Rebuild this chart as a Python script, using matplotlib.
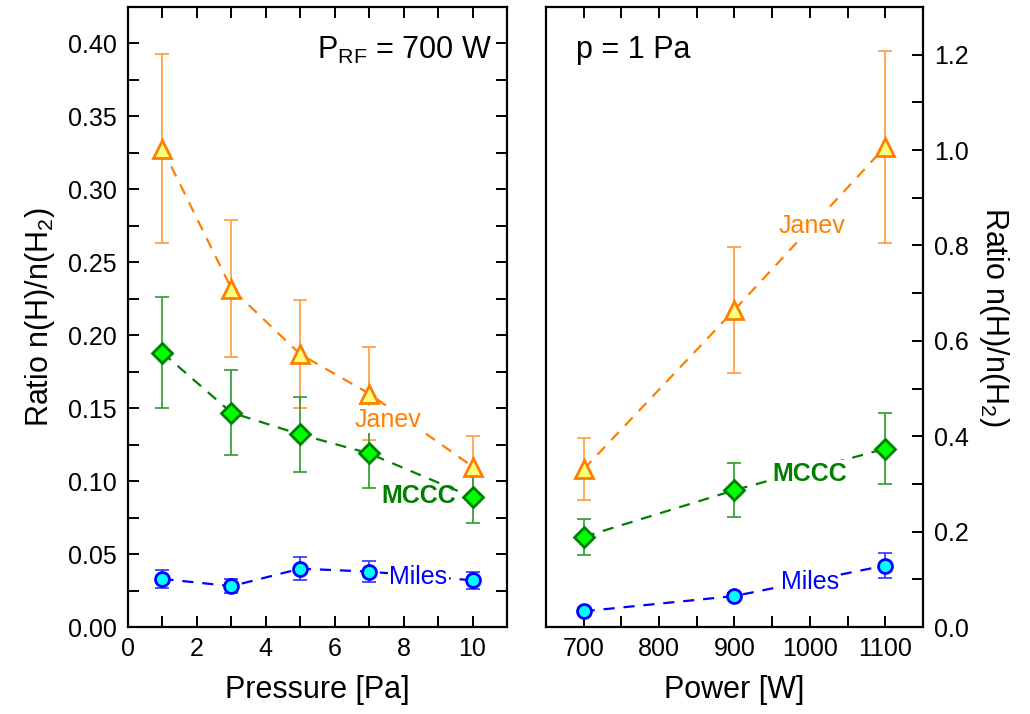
import matplotlib

matplotlib.use("Agg")
import matplotlib.pyplot as plt
from matplotlib.ticker import MultipleLocator

plt.rcParams["font.family"] = ["Liberation Sans", "DejaVu Sans"]
plt.rcParams["mathtext.fontset"] = "custom"
plt.rcParams["mathtext.rm"] = "Liberation Sans"

# left panel: ratio vs pressure at 700 W
pressure = [1, 3, 5, 7, 10]
janev_p = [0.328, 0.232, 0.187, 0.160, 0.110]
janev_p_err = [0.065, 0.047, 0.037, 0.032, 0.021]
mccc_p = [0.188, 0.147, 0.132, 0.119, 0.089]
mccc_p_err = [0.038, 0.029, 0.026, 0.024, 0.018]
miles_p = [0.033, 0.028, 0.040, 0.038, 0.032]
miles_p_err = [0.006, 0.005, 0.008, 0.007, 0.006]

# right panel: ratio vs power at 1 Pa
power = [700, 900, 1100]
janev_w = [0.331, 0.665, 1.007]
janev_w_err = [0.065, 0.132, 0.201]
mccc_w = [0.189, 0.287, 0.374]
mccc_w_err = [0.037, 0.057, 0.075]
miles_w = [0.033, 0.065, 0.129]
miles_w_err = [0.006, 0.006, 0.026]

ORANGE = "#FF8000"
GREEN = "#008000"
BLUE = "#0000FF"

series = [
    ("janev", ORANGE, "#FFFF80", "#FF9A3C", "^", 12.5),
    ("mccc", GREEN, "#00FF00", "#2E9A2E", "D", 10),
    ("miles", BLUE, "#00FFFF", "#3030FF", "o", 10),
]

fig = plt.figure(figsize=(10.3, 7.14), dpi=100)
ax1 = fig.add_axes([0.1243, 0.1218, 0.3679, 0.8684])
ax2 = fig.add_axes([0.5301, 0.1218, 0.3660, 0.8684])


def draw(ax, x, ys, errs):
    for (name, col, face, ecol, mk, ms), y, e in zip(series, ys, errs):
        ax.errorbar(x, y, yerr=e, fmt="none", ecolor=ecol, elinewidth=1.2,
                    capsize=5, capthick=1.2, zorder=2)
        ax.plot(x, y, ls=(0, (5, 4)), color=col, lw=1.6, marker=mk, ms=ms,
                mfc=face, mec=col, mew=2, zorder=3)


def style(ax):
    for s in ax.spines.values():
        s.set_linewidth(1.6)
    ax.tick_params(which="both", direction="in", top=True, right=True,
                   width=1.4, length=8, labelsize=18)
    ax.tick_params(axis="y", which="major", pad=8)
    ax.tick_params(axis="x", which="major", pad=7)


def label(ax, x, y, s, col, bold=False):
    ax.text(x, y, s, color=col, fontsize=18, ha="center", va="center",
            fontweight="bold" if bold else "normal",
            bbox=dict(fc="white", ec="none", pad=1), zorder=4)


draw(ax1, pressure, [janev_p, mccc_p, miles_p], [janev_p_err, mccc_p_err, miles_p_err])
ax1.set_xlim(0, 11)
ax1.set_ylim(0, 0.425)
ax1.xaxis.set_major_locator(MultipleLocator(2))
ax1.xaxis.set_minor_locator(MultipleLocator(1))
ax1.yaxis.set_major_locator(MultipleLocator(0.05))
ax1.yaxis.set_minor_locator(MultipleLocator(0.025))
ax1.yaxis.set_major_formatter(plt.FormatStrFormatter("%.2f"))
style(ax1)
ax1.set_xlabel("Pressure [Pa]", fontsize=22, labelpad=10)
ax1.set_ylabel("Ratio n(H)/n(H$_2$)", fontsize=22, labelpad=8)
ax1.text(0.96, 0.955, "P$_{\\mathrm{RF}}$ = 700 W", transform=ax1.transAxes,
         ha="right", va="top", fontsize=22)
label(ax1, 7.55, 0.142, "Janev", ORANGE)
ax1.text(8.43, 0.090, "MCCC", color=GREEN, fontsize=18, fontweight="bold",
         ha="center", va="center", zorder=4)
label(ax1, 8.43, 0.034, "Miles", BLUE)

draw(ax2, power, [janev_w, mccc_w, miles_w], [janev_w_err, mccc_w_err, miles_w_err])
ax2.set_xlim(650, 1150)
ax2.set_ylim(0, 1.3)
ax2.xaxis.set_major_locator(MultipleLocator(100))
ax2.xaxis.set_minor_locator(MultipleLocator(50))
ax2.yaxis.set_major_locator(MultipleLocator(0.2))
ax2.yaxis.set_minor_locator(MultipleLocator(0.1))
ax2.yaxis.set_major_formatter(plt.FormatStrFormatter("%.1f"))
ax2.yaxis.tick_right()
ax2.yaxis.set_label_position("right")
style(ax2)
ax2.set_xlabel("Power [W]", fontsize=22, labelpad=10)
ax2.set_ylabel("Ratio n(H)/n(H$_2$)", fontsize=22, rotation=270, labelpad=30)
ax2.text(0.08, 0.955, "p = 1 Pa", transform=ax2.transAxes,
         ha="left", va="top", fontsize=22)
label(ax2, 1003, 0.841, "Janev", ORANGE)
label(ax2, 1000, 0.321, "MCCC", GREEN, bold=True)
label(ax2, 1000, 0.094, "Miles", BLUE)

fig.savefig("out.png", dpi=100)
